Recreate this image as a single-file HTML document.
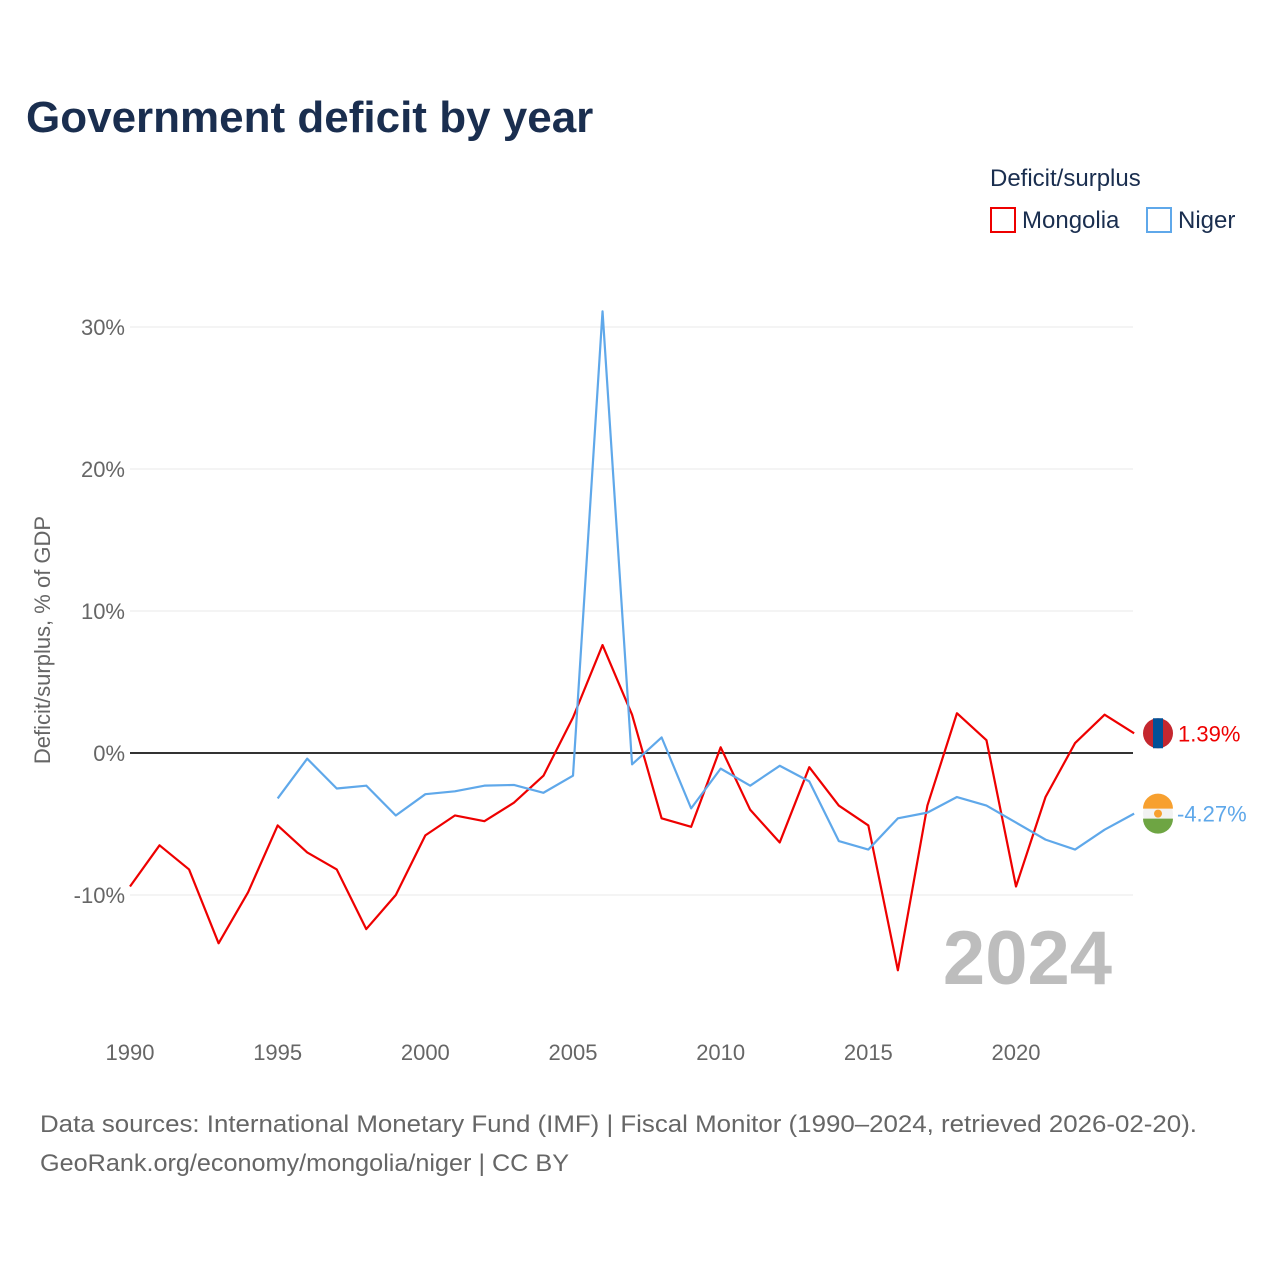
<!DOCTYPE html>
<html><head><meta charset="utf-8"><style>
body{margin:0;background:#fff;font-family:"Liberation Sans",sans-serif;}
svg text{font-family:"Liberation Sans",sans-serif;}
</style></head><body>
<svg id="c" width="1280" height="1280" viewBox="0 0 1280 1280" xmlns="http://www.w3.org/2000/svg">
<text x="26" y="132" font-size="44" font-weight="bold" fill="#1a2e4f">Government deficit by year</text>
<text x="990" y="186" font-size="24" fill="#1a2e4f">Deficit/surplus</text>
<g><rect x="991" y="208" width="24" height="24" fill="none" stroke="#ee0000" stroke-width="2"/><text x="1022" y="228" font-size="24" fill="#1a2e4f">Mongolia</text></g>
<g><rect x="1147" y="208" width="24" height="24" fill="none" stroke="#5fa8ea" stroke-width="2"/><text x="1178" y="228" font-size="24" fill="#1a2e4f">Niger</text></g>
<g id="grid"></g>
<text x="1112" y="984" font-size="76" font-weight="bold" fill="#bdbdbd" text-anchor="end">2024</text>
<text transform="translate(50,640) rotate(-90)" font-size="22" fill="#666" text-anchor="middle">Deficit/surplus, % of GDP</text>
<g id="marks"></g>
<text x="40" y="1132" font-size="24" fill="#666" textLength="1157" lengthAdjust="spacingAndGlyphs">Data sources: International Monetary Fund (IMF) | Fiscal Monitor (1990–2024, retrieved 2026-02-20).</text>
<text x="40" y="1171" font-size="24" fill="#666" textLength="529" lengthAdjust="spacingAndGlyphs">GeoRank.org/economy/mongolia/niger | CC BY</text>
</svg>
<script>
const yTicks=[-10,0,10,20,30];
const xTicks=[1990,1995,2000,2005,2010,2015,2020];
const mongoliaYears=[1990,1991,1992,1993,1994,1995,1996,1997,1998,1999,2000,2001,2002,2003,2004,2005,2006,2007,2008,2009,2010,2011,2012,2013,2014,2015,2016,2017,2018,2019,2020,2021,2022,2023,2024];
const mongolia=[-9.4,-6.5,-8.2,-13.4,-9.8,-5.1,-7.0,-8.2,-12.4,-10.0,-5.8,-4.4,-4.8,-3.5,-1.6,2.5,7.6,2.7,-4.6,-5.2,0.4,-4.0,-6.3,-1.0,-3.7,-5.1,-15.3,-3.7,2.8,0.9,-9.4,-3.1,0.7,2.7,1.39];
const nigerYears=[1995,1996,1997,1998,1999,2000,2001,2002,2003,2004,2005,2006,2007,2008,2009,2010,2011,2012,2013,2014,2015,2016,2017,2018,2019,2020,2021,2022,2023,2024];
const niger=[-3.2,-0.4,-2.5,-2.3,-4.4,-2.9,-2.7,-2.3,-2.25,-2.8,-1.6,31.1,-0.8,1.1,-3.9,-1.1,-2.3,-0.9,-2.0,-6.2,-6.8,-4.6,-4.2,-3.1,-3.7,-4.9,-6.1,-6.8,-5.4,-4.27];
const X=y=>130+(y-1990)*(1016-130)/30;
const Y=v=>753-v*14.2;
const NS="http://www.w3.org/2000/svg";
const grid=document.getElementById('grid'),marks=document.getElementById('marks');
function mk(tag,attrs,parent){const e=document.createElementNS(NS,tag);for(const k in attrs)e.setAttribute(k,attrs[k]);parent.appendChild(e);return e;}
yTicks.forEach(t=>{
 const l=mk('line',{x1:130,x2:1133,y1:Y(t),y2:Y(t),stroke:t===0?'#333':'#e8e8e8','stroke-width':t===0?2:1},grid);
 
 
 const tx=mk('text',{x:125,y:Y(t)+8,'font-size':22,fill:'#666','text-anchor':'end'},grid);
 tx.textContent=t+'%';
 
 
});
xTicks.forEach(t=>{
 const tx=mk('text',{x:X(t),y:1060,'font-size':22,fill:'#666','text-anchor':'middle'},grid);
 tx.textContent=t;
 
 
});
function line(yrs,vals,color,name){
 const p=mk('polyline',{points:yrs.map((y,i)=>X(y)+','+Y(vals[i])).join(' '),fill:'none',stroke:color,'stroke-width':2.2,'stroke-linejoin':'round'},marks);
 
 
}
line(mongoliaYears,mongolia,'#ee0000','mongolia-line');
line(nigerYears,niger,'#5fa8ea','niger-line');
const mv=mongolia[mongolia.length-1],nv=niger[niger.length-1];
const fm=mk('g',{},marks);


mk('circle',{cx:1158,cy:Y(mv),r:15,fill:'#c4272f'},fm);
mk('rect',{x:1153,y:Y(mv)-15,width:10,height:30,fill:'#015197'},fm);
const lm=mk('text',{x:1178,y:Y(mv)+8,'font-size':22,fill:'#ee0000'},marks);
lm.textContent=mv.toFixed(2)+'%';


const fn=mk('g',{},marks);


mk('circle',{cx:1158,cy:Y(nv),r:15,fill:'#f2f2f2'},fn);
mk('path',{d:`M1143 ${Y(nv)-5} A15 15 0 0 1 1173 ${Y(nv)-5} Z`,fill:'#f7a02f'},fn);
mk('path',{d:`M1143 ${Y(nv)+5} A15 15 0 0 0 1173 ${Y(nv)+5} Z`,fill:'#6ea543'},fn);
mk('circle',{cx:1158,cy:Y(nv),r:4,fill:'#f7a02f'},fn);
const ln=mk('text',{x:1177,y:Y(nv)+8,'font-size':22,fill:'#5fa8ea'},marks);
ln.textContent=nv.toFixed(2)+'%';


</script>
</body></html>
